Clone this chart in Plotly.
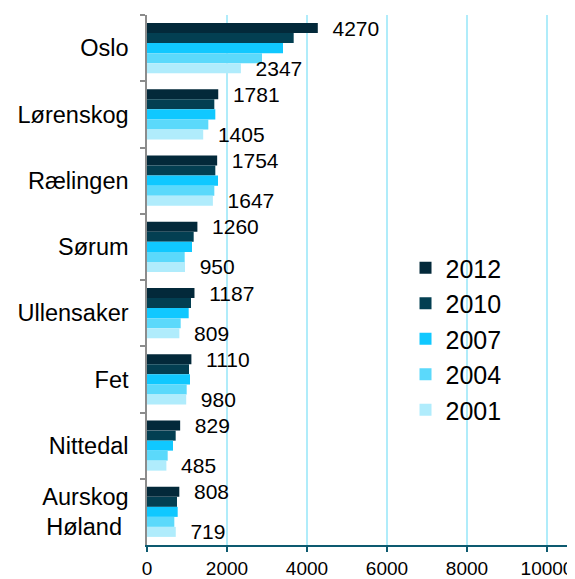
import plotly.graph_objects as go

categories = ["Oslo", "Lørenskog", "Rælingen", "Sørum", "Ullensaker", "Fet", "Nittedal", "Aurskog<br>Høland\u00a0"]
years = ["2012", "2010", "2007", "2004", "2001"]
v2012 = [4270, 1781, 1754, 1260, 1187, 1110, 829, 808]
v2010 = [3667, 1683, 1708, 1167, 1100, 1050, 717, 750]
v2007 = [3400, 1708, 1775, 1125, 1042, 1075, 650, 767]
v2004 = [2875, 1533, 1683, 942, 842, 992, 517, 683]
v2001 = [2347, 1405, 1647, 950, 809, 980, 485, 719]
series = [v2012, v2010, v2007, v2004, v2001]
labelled = {"2012", "2001"}
colors = ["#03293a", "#033f52", "#10c8ff", "#5bd9fb", "#b0ecfc"]
tickvals = [0, 2000, 4000, 6000, 8000, 10000]

FONT = "Liberation Sans, Arial, sans-serif"

fig = go.Figure()
for yr, vals, col in zip(years, series, colors):
    show = yr in labelled
    fig.add_trace(go.Bar(
        name=yr, y=categories, x=vals, orientation="h",
        marker=dict(color=col, line=dict(width=0)),
        text=[f"\u00a0\u00a0{v}" for v in vals] if show else None,
        textposition="outside" if show else "none",
        textfont=dict(family=FONT, size=21, color="#000000"),
        constraintext="none", cliponaxis=False,
        hoverinfo="x+name",
    ))

# page body has an 8px default margin, so the figure is sized to fit the 575x579 window
fig.update_layout(
    template="none",
    width=567, height=571,
    margin=dict(l=139, r=0, t=7, b=34, autoexpand=False),
    barmode="group", bargap=0.245, bargroupgap=0,
    paper_bgcolor="white", plot_bgcolor="white",
    font=dict(family=FONT, color="#000000"),
    showlegend=True,
    legend=dict(
        x=0.604, y=0.566, xanchor="left", yanchor="top",
        bgcolor="rgba(0,0,0,0)", borderwidth=0,
        font=dict(family=FONT, size=25, color="#000000"),
        itemwidth=30, traceorder="normal",
    ),
    xaxis=dict(
        range=[0, 10700], tickvals=tickvals, ticktext=[str(t) for t in tickvals],
        showgrid=True, gridcolor="#b0ecfa", gridwidth=1.5,
        zeroline=False, automargin=False,
        showline=True, linecolor="#0d5a70", linewidth=2,
        ticks="outside", ticklen=5, tickcolor="#0d5a70", tickwidth=1.5,
        tickfont=dict(family=FONT, size=19, color="#000000"),
        fixedrange=True,
    ),
    yaxis=dict(
        autorange="reversed", type="category", automargin=False,
        showline=True, linecolor="#8c8c8c", linewidth=1.5,
        ticks="outside", ticklen=5, tickcolor="#8c8c8c", tickwidth=1.5,
        tickson="boundaries",
        showgrid=False, zeroline=False,
        ticklabelstandoff=12,
        tickfont=dict(family=FONT, size=23.5, color="#000000"),
        fixedrange=True,
    ),
)

fig.write_html("out.html")
